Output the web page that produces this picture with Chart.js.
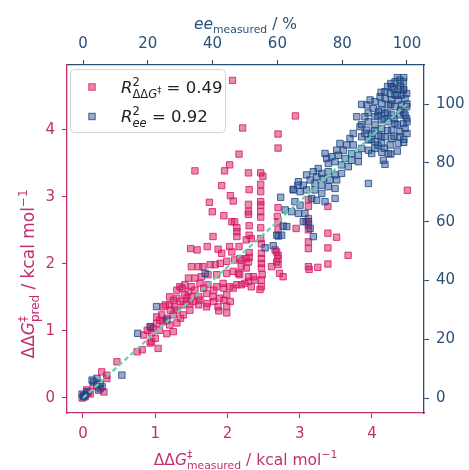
<!DOCTYPE html>
<html>
<head>
<meta charset="utf-8">
<script src="https://cdn.jsdelivr.net/npm/chart.js@4.4.1/dist/chart.umd.min.js"></script>
<style>
  html, body { margin: 0; padding: 0; background: #fff; }
  #wrap { width: 469px; height: 470px; }
</style>
</head>
<body>
<div id="wrap"><canvas id="parity" width="469" height="470"></canvas></div>
<script>
// ΔΔG‡ (kcal/mol): measured vs predicted
const ddgMeasured = [
  2.07, 2.21, 2.70, 2.70, 2.16, 2.03, 1.96, 1.55, 2.29, 2.46,
  2.49, 2.46, 1.92, 2.30, 2.46, 2.04, 2.08, 1.75, 2.29, 2.46,
  2.46, 2.70, 1.79, 1.95, 2.29, 2.29, 2.46, 2.46, 2.69, 2.06,
  2.10, 2.13, 2.13, 2.30, 2.46, 1.80, 2.13, 2.46, 2.70, 2.70,
  2.30, 2.95, 2.94, 4.49, 3.12, 3.12, 3.39, 3.12, 3.09, 3.12,
  3.12, 3.39, 3.51, 3.12, 3.12, 3.39, 3.67, 3.12, 3.13, 3.25,
  3.39, 1.49, 1.58, 1.72, 1.87, 1.92, 2.03, 2.06, 2.16, 2.30,
  2.30, 2.47, 2.47, 2.47, 2.68, 2.70, 2.70, 2.26, 2.33, 2.47,
  2.19, 2.26, 2.29, 2.19, 2.26, 2.17, 2.29, 2.38, 2.29, 2.19,
  2.47, 2.48, 2.47, 2.47, 2.61, 2.66, 2.70, 2.68, 2.72, 2.77,
  1.50, 1.60, 1.66, 1.76, 1.83, 1.90, 1.99, 2.10, 2.17, 1.46,
  1.55, 1.64, 1.73, 1.85, 1.99, 2.08, 2.15, 2.36, 1.34, 1.41,
  1.50, 1.62, 1.73, 1.85, 1.94, 2.03, 2.13, 2.24, 2.33, 2.45,
  1.30, 1.37, 1.46, 1.55, 1.67, 1.81, 1.95, 2.08, 1.20, 1.30,
  1.41, 1.50, 1.60, 1.71, 1.80, 1.89, 1.99, 1.25, 1.35, 1.44,
  1.53, 1.62, 1.72, 1.81, 1.95, 2.04, 1.11, 1.20, 1.27, 1.39,
  1.48, 1.60, 1.71, 1.87, 1.99, 1.88, 1.99, 1.14, 1.21, 1.30,
  1.02, 1.09, 1.16, 1.25, 1.35, 1.43, 1.39, 1.48, 1.11, 1.20,
  1.30, 1.06, 1.16, 1.25, 1.02, 1.06, 0.93, 0.89, 0.95, 0.84,
  1.00, 0.95, 1.04, 0.75, 0.82, 0.93, 0.97, 0.47, 0.26, 0.33,
  0.33, 0.01, 0.06, -0.01, 0.03, 0.08, 0.10, 0.24, 0.29, 0.05, 0.14, 0.19
];
const ddgPred = [
  4.74, 4.03, 3.94, 3.73, 3.64, 3.48, 3.39, 3.39, 3.36, 3.36,
  3.31, 3.19, 3.17, 3.11, 3.08, 3.02, 2.94, 2.92, 2.89, 2.93,
  2.88, 2.84, 2.78, 2.72, 2.78, 2.74, 2.78, 2.70, 2.71, 2.63,
  2.63, 2.54, 2.48, 2.57, 2.54, 2.41, 2.41, 2.38, 2.63, 2.52,
  2.43, 2.53, 4.21, 3.10, 2.96, 2.86, 2.86, 2.68, 2.63, 2.58,
  2.51, 2.46, 2.40, 2.33, 2.23, 2.24, 2.13, 1.96, 1.92, 1.95,
  2.00, 2.23, 2.21, 2.26, 2.22, 2.16, 2.26, 2.18, 2.26, 2.17,
  2.10, 2.16, 2.08, 2.01, 2.18, 2.08, 1.99, 2.36, 2.38, 2.30,
  2.06, 2.08, 2.03, 1.96, 1.94, 1.84, 1.81, 1.76, 1.74, 1.69,
  1.94, 1.84, 1.76, 1.66, 1.96, 2.21, 2.13, 2.03, 1.86, 1.81,
  1.96, 1.96, 1.96, 1.99, 1.99, 2.01, 2.04, 2.06, 2.08, 1.79,
  1.79, 1.81, 1.84, 1.84, 1.86, 1.89, 1.86, 1.81, 1.66, 1.69,
  1.66, 1.71, 1.69, 1.66, 1.71, 1.66, 1.69, 1.71, 1.66, 1.62,
  1.61, 1.64, 1.59, 1.61, 1.64, 1.61, 1.64, 1.64, 1.51, 1.49,
  1.54, 1.51, 1.51, 1.56, 1.51, 1.49, 1.54, 1.46, 1.44, 1.49,
  1.44, 1.46, 1.41, 1.44, 1.46, 1.44, 1.36, 1.39, 1.36, 1.39,
  1.41, 1.39, 1.36, 1.36, 1.37, 1.30, 1.27, 1.39, 1.31, 1.31,
  1.21, 1.24, 1.19, 1.24, 1.19, 1.44, 1.24, 1.31, 1.14, 1.09,
  1.12, 1.01, 0.96, 0.99, 1.11, 1.16, 1.06, 1.01, 0.97, 0.94,
  0.89, 0.84, 0.74, 0.69, 0.72, 0.82, 1.04, 0.54, 0.39, 0.34,
  0.29, 0.04, 0.07, 0.00, 0.02, 0.09, 0.06, 0.14, 0.09, 0.12, 0.19, 0.17
];

// ee (%): measured vs predicted
const eeMeasured = [
  96.3, 97.8, 98.9, 95.3, 97.3, 98.9, 93.2, 94.8, 96.3, 98.4,
  99.9, 91.7, 93.2, 95.3, 97.3, 99.4, 90.1, 92.2, 94.3, 96.3,
  98.4, 99.9, 88.6, 87.6, 86.0, 89.6, 91.2, 93.2, 95.3, 97.8,
  99.4, 90.1, 92.2, 94.3, 96.3, 98.9, 99.9, 84.5, 87.0, 88.1,
  90.1, 92.2, 95.3, 97.8, 99.4, 85.5, 87.6, 89.1, 91.2, 93.2,
  95.3, 97.8, 83.4, 86.0, 88.1, 90.1, 92.2, 94.8, 97.3, 82.4,
  81.4, 83.4, 86.0, 88.1, 90.1, 92.2, 94.3, 79.3, 80.4, 82.9,
  85.0, 89.1, 78.3, 78.8, 80.9, 82.9, 85.0, 92.7, 93.2, 76.8,
  77.8, 79.8, 81.9, 75.7, 74.7, 75.2, 72.6, 73.7, 75.7, 77.8,
  79.8, 71.1, 72.1, 74.2, 76.2, 78.3, 69.0, 70.1, 71.6, 73.7,
  75.7, 77.8, 88.1, 66.5, 68.0, 64.9, 67.0, 69.0, 71.6, 73.7,
  70.6, 72.1, 74.7, 77.8, 65.4, 67.0, 64.4, 66.5, 68.5, 68.0,
  69.6, 70.1, 62.9, 62.4,
  92, 94, 96, 98, 95, 97, 93, 99, 91, 97,
  94, 96, 99, 92, 90, 98, 99, 96, 95, 100,
  100, 100, 99, 97, 95, 93, 91, 89, 87, 88,
  86, 99, 97, 94, 92,
  56.2, 58.7, 60.3, 71.1, 61.0, 64.9, 66.3, 61.8, 59.8, 61.3,
  37.7, 22.7, 25.9, 20.8, 16.9, 12.0, 2.8, 4.3, 5.3, 5.9,
  4.8, 3.3, 0.2, -0.3, 1.2, 0.6
];
const eePred = [
  107.6, 108.2, 107.6, 105.9, 105.3, 104.8, 104.2, 103.6, 103.1, 103.1,
  103.6, 102.5, 101.9, 101.4, 101.4, 101.9, 100.8, 100.2, 99.7, 99.1,
  99.7, 99.1, 101.4, 99.7, 99.9, 98.5, 97.4, 96.8, 96.3, 96.3,
  96.3, 95.7, 94.6, 94.0, 93.4, 93.4, 95.1, 95.7, 95.7, 94.0,
  92.9, 91.7, 91.2, 90.6, 91.7, 92.3, 91.2, 90.0, 89.4, 88.9,
  88.3, 88.9, 90.0, 88.9, 87.8, 87.2, 86.6, 86.1, 86.6, 88.3,
  86.1, 86.1, 84.9, 84.3, 84.9, 83.6, 83.2, 86.6, 84.3, 83.2,
  82.6, 83.2, 84.3, 82.6, 81.5, 80.9, 80.4, 80.9, 79.5, 82.1,
  80.4, 79.3, 78.7, 79.8, 83.2, 81.5, 78.1, 76.4, 77.0, 75.9,
  76.4, 77.0, 75.3, 74.7, 74.2, 74.2, 75.9, 74.2, 73.0, 72.4,
  71.9, 71.3, 73.0, 73.6, 72.4, 70.8, 70.2, 70.8, 70.8, 69.6,
  67.9, 67.3, 66.8, 67.9, 66.8, 65.6, 63.4, 62.8, 62.8, 60.0,
  60.0, 57.7, 58.3, 64.0,
  98, 97, 95, 98, 100, 103, 95, 97, 96, 93,
  91, 89, 88, 89, 91, 106, 105, 105, 107, 100,
  94, 90, 87, 84, 83, 85, 86, 88, 90, 97,
  93, 109, 109, 106, 104,
  51.1, 51.8, 55.1, 54.9, 68.3, 71.0, 72.4, 58.5, 55.4, 55.4,
  42.4, 31.1, 26.5, 24.3, 22.0, 7.8, 6.1, 6.7, 5.0, 3.8,
  2.7, 5.5, 0.4, 1.3, 2.1, 0.9
];

// parity line, ee units
const parityEE = [0, 100];

const ddgTicks = [0, 1, 2, 3, 4];
const eeTicks = [0, 20, 40, 60, 80, 100];

const r2DDG = 0.49;
const r2EE = 0.92;

const PINK = "#c0306f";
const BLUE = "#2b5078";
const FONT = '"DejaVu Sans", sans-serif';

const pinkFill = "rgba(214, 22, 98, 0.5)";
const pinkEdge = "rgba(214, 22, 98, 0.8)";
const blueFill = "rgba(27, 69, 132, 0.45)";
const blueEdge = "rgba(27, 69, 132, 0.8)";

// draws text made of pieces: italics, sub/superscripts (stack = same x as previous piece)
function richText(ctx, segs, size, x, y, align, color) {
  const font = s => (s.it ? "italic " : "") + (size * (s.s || 1)).toFixed(2) + "px " + FONT;
  let cur = 0, lastStart = 0, lastEnd = 0;
  const placed = [];
  for (const s of segs) {
    ctx.font = font(s);
    const w = ctx.measureText(s.t).width;
    const start = s.stack ? lastStart : cur;
    placed.push({ s, start });
    if (s.stack) {
      lastEnd = Math.max(lastEnd, start + w);
    } else {
      lastStart = start;
      lastEnd = start + w;
    }
    cur = lastEnd;
  }
  const x0 = align === "center" ? x - cur / 2 : x;
  ctx.fillStyle = color;
  ctx.textAlign = "left";
  ctx.textBaseline = "alphabetic";
  for (const p of placed) {
    ctx.font = font(p.s);
    ctx.fillText(p.s.t, x0 + p.start, y + (p.s.dy || 0) * size);
  }
}

function marker(ctx, x, y, fill, edge) {
  const h = 3.2;
  ctx.fillStyle = fill;
  ctx.fillRect(x - h, y - h, 2 * h, 2 * h);
  ctx.strokeStyle = edge;
  ctx.lineWidth = 1;
  ctx.strokeRect(x - h, y - h, 2 * h, 2 * h);
}

const titlesPlugin = {
  id: "axisTitles",
  afterDraw(chart) {
    const ctx = chart.ctx;
    const a = chart.chartArea;
    const cx = (a.left + a.right) / 2;
    const sz = 15.5;
    ctx.save();
    richText(ctx, [
      { t: "ee", it: 1 }, { t: "measured", s: 0.7, dy: 0.28 }, { t: " / %" }
    ], sz, cx, 29, "center", BLUE);
    richText(ctx, [
      { t: "ΔΔ" }, { t: "G", it: 1 }, { t: "‡", s: 0.7, dy: -0.42 },
      { t: "measured", s: 0.7, dy: 0.28, stack: 1 },
      { t: " / kcal mol" }, { t: "−1", s: 0.7, dy: -0.42 }
    ], sz, cx, 465, "center", PINK);
    ctx.translate(34, 274);
    ctx.rotate(-Math.PI / 2);
    richText(ctx, [
      { t: "ΔΔ" }, { t: "G", it: 1 }, { t: "‡", s: 0.7, dy: -0.42 },
      { t: "pred", s: 0.7, dy: 0.28, stack: 1 },
      { t: " / kcal mol" }, { t: "−1", s: 0.7, dy: -0.42 }
    ], 17, 0, 0, "center", PINK);
    ctx.restore();
  }
};

const legendPlugin = {
  id: "r2Legend",
  afterDraw(chart) {
    const ctx = chart.ctx;
    const bx = 70, by = 69, bw = 155, bh = 63, r = 4;
    ctx.save();
    ctx.beginPath();
    ctx.roundRect(bx + 0.5, by + 0.5, bw, bh, r);
    ctx.fillStyle = "rgba(255,255,255,0.85)";
    ctx.fill();
    ctx.strokeStyle = "#d4d4d4";
    ctx.lineWidth = 1;
    ctx.stroke();
    marker(ctx, 92, 87, pinkFill, pinkEdge);
    marker(ctx, 92, 116.5, blueFill, blueEdge);
    const sz = 16.5;
    richText(ctx, [
      { t: "R", it: 1 }, { t: "2", s: 0.7, dy: -0.45 },
      { t: "ΔΔ", s: 0.7, dy: 0.3, stack: 1 }, { t: "G", it: 1, s: 0.7, dy: 0.3 },
      { t: "‡", s: 0.5, dy: 0.02 },
      { t: " = " + r2DDG.toFixed(2) }
    ], sz, 121, 93, "left", "#222");
    richText(ctx, [
      { t: "R", it: 1 }, { t: "2", s: 0.7, dy: -0.45 },
      { t: "ee", it: 1, s: 0.7, dy: 0.3, stack: 1 },
      { t: " = " + r2EE.toFixed(2) }
    ], sz, 121, 122, "left", "#222");
    ctx.restore();
  }
};

function axis(pos, color, min, max, tickVals, size) {
  const horizontal = pos === "top" || pos === "bottom";
  return {
    type: "linear",
    position: pos,
    min, max,
    afterBuildTicks: s => { s.ticks = tickVals.map(v => ({ value: v })); },
    afterFit: s => { if (horizontal) s.height = size; else s.width = size; },
    grid: {
      display: true, drawOnChartArea: false, drawTicks: true,
      tickLength: 5, tickWidth: 1.1, tickColor: color, color
    },
    border: { display: true, color, width: 1.3 },
    ticks: {
      color, padding: 7,
      font: { family: FONT, size: 15 },
      callback: v => String(v)
    },
    title: { display: false }
  };
}

const parityColor = "#5fd3ae";

new Chart(document.getElementById("parity"), {
  type: "scatter",
  data: {
    datasets: [
      {
        label: "parity",
        data: parityEE.map(v => ({ x: v, y: v })),
        xAxisID: "x2", yAxisID: "y2",
        showLine: true,
        borderColor: parityColor,
        borderWidth: 2.2,
        borderDash: [5, 3],
        pointRadius: 0,
        order: 0
      },
      {
        label: "ee",
        data: eeMeasured.map((x, i) => ({ x, y: eePred[i] })),
        xAxisID: "x2", yAxisID: "y2",
        pointStyle: "rect",
        pointRadius: 4.5,
        backgroundColor: blueFill,
        borderColor: blueEdge,
        borderWidth: 1,
        order: 1
      },
      {
        label: "ddg",
        data: ddgMeasured.map((x, i) => ({ x, y: ddgPred[i] })),
        xAxisID: "x", yAxisID: "y",
        pointStyle: "rect",
        pointRadius: 4.5,
        backgroundColor: pinkFill,
        borderColor: pinkEdge,
        borderWidth: 1,
        order: 2
      }
    ]
  },
  options: {
    responsive: false,
    animation: false,
    devicePixelRatio: 1,
    layout: { padding: 0 },
    plugins: { legend: { display: false }, tooltip: { enabled: false } },
    scales: {
      x: axis("bottom", PINK, -0.221, 4.72, ddgTicks, 57),
      x2: axis("top", BLUE, -4.94, 105.25, eeTicks, 65),
      y: axis("left", PINK, -0.224, 4.97, ddgTicks, 67),
      y2: axis("right", BLUE, -5.1, 113.3, eeTicks, 45)
    }
  },
  plugins: [titlesPlugin, legendPlugin]
});
</script>
</body>
</html>
